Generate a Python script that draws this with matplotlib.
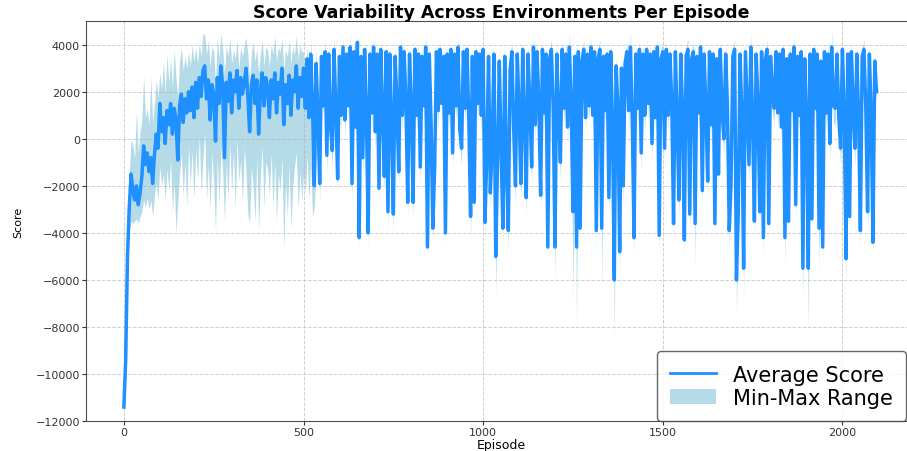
#!/usr/bin/env python3
"""
Score variability across environments, one point every 5 episodes.
Average score line on top of the min-max band.
"""

import numpy as np
import matplotlib
matplotlib.use("Agg")
import matplotlib.pyplot as plt
from matplotlib.patches import Patch
from matplotlib.lines import Line2D

LINE_BLUE = "#1E90FF"
BAND_BLUE = "lightblue"

# Episode index (sampled every 5 episodes)
episodes = np.arange(0, 2100, 5)

# Average score across environments
avg_score = [
    -11400, -9400, -5000, -2900, -1500, -2200, -2600, -2000, -2800, -2300, -1600, -300, -1100, -600, -1400, -800, -1900, -700, 200, -400,
    1500, 300, 900, -200, 1200, 600, 1500, 200, 1300, 800, -900, 1400, 1900, 700, 1700, 1100, 2000, 1200, 2200, 900,
    2400, 1300, 2600, 1800, 2900, 3100, 1700, 2500, 800, 2300, 1900, -100, 2600, 1500, 3100, 2200, -800, 2400, 1600, 2800,
    1100, 2500, 2000, 2900, 1300, 2600, 1900, 2400, 3000, 1800, 300, 2300, 2700, 1500, 2500, 200, 2000, 2800, 1400, 2600,
    2200, 900, 2500, 1700, 2800, 1100, 2400, 1900, 3000, 600, 2300, 1500, 2700, 1000, 2500, 2000, 3100, 1300, 2600, 1800,
    3000, 1300, 3400, 900, 3600, 1500, -2000, 3200, 1100, -1900, 3500, 1400, 3700, -700, 3600, 600, -500, 3800, 1200, -1700,
    3500, 1000, 3900, 800, 3600, 1400, 3900, -1900, 3700, 500, 4100, -4200, 3500, -800, 3800, 1200, -4000, 3600, 1100, 3900,
    300, 3600, -2100, 3800, 1300, -1600, 3700, -3100, 3600, 800, -3200, 3500, 1500, -1400, 3900, 1000, 3700, 1600, -2700, 3600,
    1300, -2700, 3800, 1000, 3600, -1200, 3500, 1400, 3900, -4600, 3600, 700, -3800, -1200, 3700, 1200, 3800, 1500, 3500, -4000,
    3600, 1100, 3800, -600, 3600, 1400, 3900, 400, -400, 3700, 1300, 3800, 900, -3300, 3500, -2700, 3700, 1500, 3600, 1000,
    3800, -3550, -800, 3500, -2300, -300, 3600, -5000, -1000, 3300, -600, -3800, 3500, -1400, -3900, 2900, 3700, 400, -2000, 3600,
    1200, -1900, 3800, 900, -2500, 3600, 1400, -1200, 3900, 600, 3700, 1500, -2400, 3800, 1100, 3600, -4600, 3400, 3800, 1300,
    -4600, 3600, 1100, -1000, 3800, 1300, 3600, 500, 3900, 1600, -3100, 3500, -4600, 3700, -3800, 3300, 3800, 900, 3600, 1400,
    3900, 1000, 3700, -3900, 3400, 3800, -3800, 3500, 1200, 3600, -2500, 3700, 700, -6000, 3100, 1400, -4800, 3000, -2000, 3200,
    3700, 1200, 3900, 800, -4200, 3600, 1300, 3800, -600, 3600, 1000, 3800, 1500, 3600, -200, 3700, 900, 3900, -4100, 3400,
    3700, -400, 3800, 1000, 3600, 1500, -3600, 3700, 700, -2600, 3600, 1200, -4300, 3500, 3800, -3200, 3400, 3700, -3600, 3500,
    1100, 3900, -2200, 3600, 1300, -1800, 3700, 600, 3600, -3600, 3400, -1500, 3800, 1200, 0, 3600, 1400, -3900, -1900, 3500,
    3800, -6000, -3200, 3600, 1100, -5500, 3700, 1300, -1100, 3900, 800, -3500, 3600, 1400, -3100, 3700, -4200, 3300, 3800, -3600,
    3500, 1900, 1300, 3700, 1100, 3600, 500, 3800, -4200, 3400, -3500, 3600, 1200, 3900, -2800, 3500, 1000, 3700, -5500, 3400,
    1200, -5500, 3600, -3400, 3800, 1300, 3600, -3800, 3300, -4600, 3700, 1100, 3600, -200, 3900, 1400, 1300, 3600, 900, -400,
    3800, 1200, -5100, 3600, -3300, 3700, 1300, -400, 3600, 1000, -3900, 3500, 3800, 1400, -3100, 3600, 1100, -4400, 3300, 2000,
]

# Lowest score across environments
min_score = [
    -11900, -10200, -5800, -3900, -3500, -3600, -3500, -3400, -3600, -3300, -3100, -2600, -2900, -2500, -3000, -2600, -3300, -2400, -1900, -2600,
    -1200, -2000, -1500, -2600, -1300, -2200, -900, -3100, -1800, -4000, -2700, -1500, -600, -2400, -1000, -2900, -300, -1900, -500, -2600,
    -400, -1800, 100, -2300, -900, 300, -2600, -1100, -3000, -600, -1900, -3900, -800, -2800, -300, -1400, -3500, -1000, -2500, -200,
    -2300, -500, -3000, 0, -1800, -900, -2700, -400, -1400, -3200, -3600, -1200, -2000, -3500, -800, -3900, -1600, -300, -2900, -1000,
    -1300, -2400, -600, -2900, -1000, -3500, -1500, -2200, -800, -4700, -1800, -3300, -1100, -3800, -2000, -1200, -600, -3000, -1400, -2600,
    -1500, -2300, -700, -2600, -1100, -3300, -2900, -1200, 300, -2700, 2900, 800, 3100, -1500, 3000, 0, -1300, 3200, 600, -2400,
    2900, 400, 3300, 0, 3000, 700, 3300, -2600, 3100, -300, 3500, -4700, 2900, -1600, 3200, 500, -4600, 3000, 400, 3300,
    -500, 3000, -2800, 3200, 600, -2400, 3100, -4100, 3000, 100, -4000, 2900, 800, -2100, 3300, 300, 3100, 900, -3300, 3000,
    600, -3400, 3200, 300, 3000, -2000, 2900, 700, 3300, -5000, 3000, 0, -4300, -2000, 3100, 500, 3200, 800, 2900, -4600,
    3000, 400, 3200, -1400, 3000, 700, 3300, -300, -1100, 3100, 600, 3200, 200, -4300, 2900, -3300, 3100, 800, 3000, 300,
    3200, -4200, -1600, 2900, -3000, -1100, 3000, -6700, -1800, 2700, -1400, -4500, 2900, -2200, -4700, 2200, 3100, -400, -2800, 3000,
    500, -2700, 3200, 200, -3200, 3000, 700, -2000, 3300, -100, 3100, 800, -3100, 3200, 400, 3000, -5200, 2800, 3200, 600,
    -6000, 3000, 400, -1800, 3200, 600, 3000, -200, 3300, 900, -7000, 2900, -8200, 3100, -4500, 2700, 3200, 200, 3000, 700,
    3300, 300, 3100, -4600, 2800, 3200, -6500, 2900, 500, 3000, -3200, 3100, 0, -8600, 2500, 700, -5600, 2400, -2800, 2600,
    3100, 500, 3300, 100, -4900, 3000, 600, 3200, -1400, 3000, 300, 3200, 800, 3000, -1000, 3100, 200, 3300, -4700, 2800,
    3100, -1200, 3200, 300, 3000, 800, -4300, 3100, 0, -3300, 3000, 500, -5000, 2900, 3200, -3900, 2800, 3100, -5500, 2900,
    400, 3300, -2900, 3000, 600, -2600, 3100, -100, 3000, -4300, 2800, -2300, 3200, 500, -800, 3000, 700, -4700, -2600, 2900,
    3200, -7400, -3900, 3000, 400, -6700, 3100, 600, -1900, 3300, 100, -4100, 3000, 700, -3800, 3100, -5000, 2700, 3200, -4300,
    2900, 1200, 600, 3100, 400, 3000, -200, 3200, -5500, 2800, -4200, 3000, 500, 3300, -3500, 2900, 300, 3100, -6900, 2800,
    500, -8300, 3000, -4100, 3200, 600, 3000, -5700, 2700, -5300, 3100, 400, 3000, -1000, 3300, 700, 600, 3000, 200, -1200,
    3200, 500, -6200, 3000, -4000, 3100, 600, -1200, 3000, 300, -4600, 2900, 3200, 700, -3800, 3000, 400, -4800, 2700, 1400,
]

# Highest score across environments
max_score = [
    -11000, -8800, -4300, -1400, 0, -300, -800, 1200, -600, 300, 800, 2700, 900, 1300, 600, 2600, 700, 1500, 2500, 1800,
    2800, 2100, 3300, 1900, 3600, 2400, 3400, 2200, 3800, 2600, 1800, 3300, 3900, 2900, 3500, 3000, 3700, 3100, 4000, 3300,
    3900, 3200, 4100, 3500, 4500, 4400, 3600, 4200, 3100, 3900, 3700, 2400, 4300, 3400, 4500, 3800, 2700, 4000, 3500, 4300,
    3200, 3800, 3400, 4200, 3000, 3900, 3500, 4000, 4300, 3600, 2500, 3700, 4100, 3300, 3800, 2800, 3600, 4200, 3100, 3900,
    3800, 3100, 4000, 3600, 4400, 3300, 3900, 3700, 4300, 2900, 3800, 3500, 4200, 3200, 3900, 3600, 4400, 3400, 4000, 3700,
    3700, 2000, 4100, 1600, 4300, 2200, -800, 3900, 1800, -900, 4000, 2100, 4300, 300, 4100, 1300, 500, 4300, 1900, -600,
    3900, 1700, 4300, 1700, 4000, 2100, 4600, -900, 4100, 1400, 4500, -3000, 3900, 300, 4200, 1900, -3200, 4000, 1800, 4400,
    1400, 4000, -1000, 4300, 2000, -500, 4100, -2000, 4000, 1500, -2100, 3900, 2200, -300, 4400, 1700, 4100, 2300, -1600, 4000,
    2000, -1600, 4200, 1700, 4000, -100, 3900, 2100, 4500, -3500, 4000, 1400, -2700, -100, 4100, 1900, 4200, 2200, 3900, -2900,
    4000, 1800, 4200, 600, 4000, 2100, 4400, 1100, 700, 4100, 2000, 4200, 1600, -2200, 3900, -1600, 4100, 2200, 4000, 1700,
    4200, -2400, 300, 3900, -1200, 800, 4000, -3900, 100, 3700, 500, -2700, 3900, -300, -2800, 3600, 4100, 1300, -900, 4000,
    1900, -800, 4200, 1600, -1400, 4000, 2100, -100, 4500, 1300, 4100, 2200, -1300, 4200, 1800, 4000, -3500, 3800, 4200, 2000,
    -3500, 4000, 1800, 100, 4200, 2000, 4000, 1200, 4600, 2300, -2000, 3900, -3500, 4100, -2700, 3700, 4200, 1600, 4000, 2100,
    4400, 1700, 4100, -2800, 3800, 4200, -2700, 3900, 1900, 4000, -1400, 4100, 1400, -4900, 3500, 2100, -3700, 3400, -900, 3600,
    4100, 1900, 4600, 1500, -3100, 4000, 2000, 4200, 500, 4000, 1700, 4300, 2200, 4000, 900, 4100, 1600, 4400, -3000, 3800,
    4100, 700, 4200, 1700, 4000, 2200, -2500, 4100, 1400, -1500, 4000, 1900, -3200, 3900, 4300, -2100, 3800, 4100, -2500, 3900,
    1800, 4400, -1100, 4000, 2000, -700, 4100, 1300, 4000, -2500, 3800, -400, 4200, 1900, 1100, 4000, 2100, -2800, -800, 3900,
    4200, -4900, -2100, 4000, 1800, -4400, 4100, 2000, 0, 4600, 1500, -2400, 4000, 2100, -2000, 4100, -3100, 3700, 4200, -2500,
    3900, 2600, 2000, 4100, 1800, 4000, 1200, 4200, -3100, 3800, -2400, 4000, 1900, 4500, -1700, 3900, 1700, 4100, -4400, 3800,
    1900, -4400, 4000, -2300, 4200, 2000, 4000, -2700, 3700, -3500, 4100, 1800, 4000, 900, 4600, 2100, 2000, 4000, 1600, 700,
    4200, 1900, -4000, 4000, -2200, 4100, 2000, 700, 4000, 1700, -2800, 3900, 4200, 2100, -2000, 4000, 1800, -3300, 3700, 2600,
]

x_ticks = [0, 500, 1000, 1500, 2000]
y_ticks = list(range(-12000, 4001, 2000))

fig = plt.figure(figsize=(9.07, 4.52), dpi=100)
# right edge sits just past the canvas, as in the saved layout
ax = fig.add_axes([0.095, 0.066, 0.915, 0.885])

# min-max band first, average line on top
ax.fill_between(episodes, min_score, max_score, color=BAND_BLUE, alpha=0.9, linewidth=0)
ax.plot(episodes, avg_score, color=LINE_BLUE, linewidth=2.5)

ax.set_xlim(-105, 2205)
ax.set_ylim(-12000, 5000)
ax.set_xticks(x_ticks)
ax.set_yticks(y_ticks)
ax.tick_params(labelsize=8, colors="0.2", length=3, pad=1.5)
ax.grid(True, linestyle="--", color="#b0b0b0", linewidth=0.7, alpha=0.6)
for side in ax.spines.values():
    side.set_color("0.3")

ax.set_title("Score Variability Across Environments Per Episode",
             fontsize=12.5, fontweight="bold", pad=3)
ax.set_xlabel("Episode", fontsize=9, labelpad=0.5)
ax.set_ylabel("Score", fontsize=8, labelpad=9)

handles = [Line2D([], [], color=LINE_BLUE, linewidth=2),
           Patch(facecolor=BAND_BLUE, alpha=0.9)]
ax.legend(handles, ["Average Score", "Min-Max Range"], loc="lower right",
          bbox_to_anchor=(0.988, 0.0), fontsize=15, edgecolor="0.25",
          borderaxespad=0, borderpad=0.65, labelspacing=0.15,
          handlelength=2.2, handletextpad=0.8)

fig.savefig("out.png", dpi=100)
